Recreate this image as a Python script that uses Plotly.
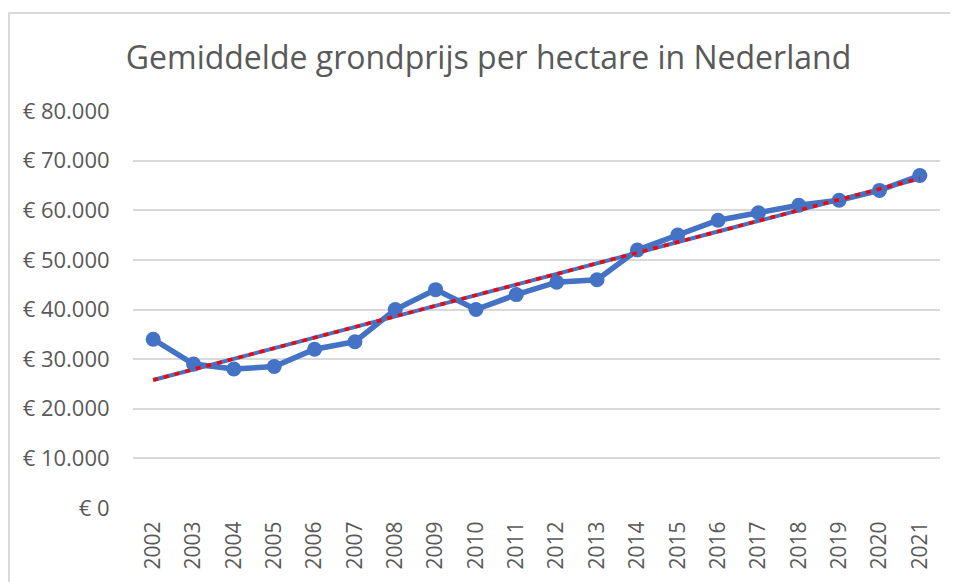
import numpy as np
import plotly.graph_objects as go

# data
years = [str(y) for y in range(2002, 2022)]
price = [34000, 29000, 28000, 28500, 32000, 33500, 40000, 44000, 40000, 43000,
         45500, 46000, 52000, 55000, 58000, 59500, 61000, 62000, 64000, 67000]
ytick_vals = [0, 10000, 20000, 30000, 40000, 50000, 60000, 70000, 80000]
ytick_text = ["€ 0", "€ 10.000", "€ 20.000", "€ 30.000", "€ 40.000",
              "€ 50.000", "€ 60.000", "€ 70.000", "€ 80.000"]

# linear trendline like excel's
idx = np.arange(len(price))
slope, icpt = np.polyfit(idx, price, 1)
trend = slope * idx + icpt

# page body has an 8px margin, so the figure is a bit smaller and shifted
W, H = 950, 574
ml, mr, mt, mb = 125, 18, 103, 74
grey = "#595959"
blue = "#4472C4"

fig = go.Figure()
fig.add_trace(go.Scatter(x=years, y=price, mode="lines+markers",
                         line=dict(color=blue, width=5.5),
                         marker=dict(color=blue, size=15)))
fig.add_trace(go.Scatter(x=[years[0], years[-1]], y=[trend[0], trend[-1]],
                         mode="lines", line=dict(color=blue, width=4)))
fig.add_trace(go.Scatter(x=[years[0], years[-1]], y=[trend[0], trend[-1]],
                         mode="lines", line=dict(color="red", width=3.5, dash="5px,6px")))

# chart border (outer frame)
pw, ph = W - ml - mr, H - mt - mb
fig.add_shape(type="rect", xref="paper", yref="paper",
              x0=(1 - ml) / pw, x1=(W + 10 - ml) / pw,
              y0=-(mb + 20) / ph, y1=(H - mb - 5) / ph,
              line=dict(color="#d9d9d9", width=2), layer="below")

fig.update_layout(
    width=W, height=H,
    margin=dict(l=ml, r=mr, t=mt, b=mb, autoexpand=False),
    paper_bgcolor="white", plot_bgcolor="white",
    showlegend=False,
    title=dict(text="Gemiddelde grondprijs per hectare in Nederland",
               x=480.5 / W, xref="container", xanchor="center",
               y=1 - 50 / H, yref="container", yanchor="middle", automargin=False,
               font=dict(family="Open Sans", size=32, color=grey)),
    xaxis=dict(type="category", tickangle=-90, showgrid=False, zeroline=False,
               automargin=False,
               ticks="outside", ticklen=4, tickcolor="white",
               tickfont=dict(family="Open Sans", size=21, color=grey),
               range=[-0.5, len(years) - 0.5]),
    yaxis=dict(range=[0, 80000], tickvals=ytick_vals, ticktext=ytick_text,
               automargin=False,
               showgrid=True, gridcolor="#d9d9d9", gridwidth=2, zeroline=False,
               ticks="outside", ticklen=18, tickcolor="white",
               tickfont=dict(family="Open Sans", size=22, color=grey)),
)

fig.write_html("out.html")
